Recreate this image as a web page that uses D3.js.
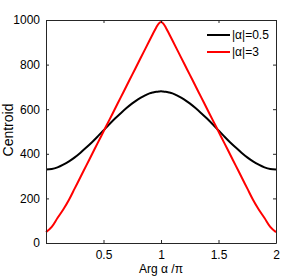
<!DOCTYPE html>
<meta charset="utf-8">
<style>
    body { margin: 0; background: white; font-family: Arial, "Liberation Sans", sans-serif; }
    text { fill: #000; }
</style>
<body>
<svg id="chart" width="305" height="277"></svg>
<script src="https://cdnjs.cloudflare.com/ajax/libs/d3/7.8.5/d3.min.js"></script>
<script>
// values
var argX = [0, 0.05, 0.1, 0.15, 0.2, 0.25, 0.3, 0.35, 0.4, 0.45, 0.5, 0.55, 0.6, 0.65, 0.7, 0.75, 0.8, 0.85, 0.9, 0.93, 0.96, 0.98, 1,
            1.02, 1.04, 1.07, 1.1, 1.15, 1.2, 1.25, 1.3, 1.35, 1.4, 1.45, 1.5, 1.55, 1.6, 1.65, 1.7, 1.75, 1.8, 1.85, 1.9, 1.95, 2];
var smallAlpha = [330, 332, 339, 351, 366, 384, 405, 428, 452, 478, 505, 532, 558, 582, 605, 626, 644, 659, 671, 675, 678, 679, 680,
                  679, 678, 675, 671, 659, 644, 626, 605, 582, 558, 532, 505, 478, 452, 428, 405, 384, 366, 351, 339, 332, 330];
var bigAlpha = [49, 72, 112, 150, 194, 245, 296, 347, 398, 449, 500, 551, 602, 653, 704, 755, 806, 857, 908, 938, 968, 984, 991,
                984, 968, 938, 908, 857, 806, 755, 704, 653, 602, 551, 500, 449, 398, 347, 296, 245, 194, 150, 112, 72, 49];
var seriesNames = ["|\u03b1|=0.5", "|\u03b1|=3"];
var seriesColors = ["#000000", "#ff0000"];
var xTicks = [0.5, 1, 1.5, 2];
var yTicks = [0, 200, 400, 600, 800, 1000];

var svg = d3.select("#chart");
var mLeft = 46, mRight = 276, mTop = 20, mBottom = 243;

var x = d3.scaleLinear().domain([0, 2]).range([mLeft, mRight]);
var y = d3.scaleLinear().domain([0, 1000]).range([mBottom, mTop]);

// curves
var line = d3.line()
    .x(function (d) { return x(d[0]); })
    .y(function (d) { return y(d[1]); })
    .curve(d3.curveMonotoneX);

[smallAlpha, bigAlpha].forEach(function (vals, i) {
    svg.append("path")
        .datum(argX.map(function (a, j) { return [a, vals[j]]; }))
        .attr("d", line)
        .attr("fill", "none")
        .attr("stroke", seriesColors[i])
        .attr("stroke-width", 2);
});

// axes, matlab style: ticks inward on all four sides
function styleAxis(g) {
    g.select(".domain").attr("stroke", "#262626");
    g.selectAll(".tick line").attr("stroke", "#262626");
    g.selectAll("text").attr("font-size", 12).attr("fill", "#000");
}
svg.append("g")
    .attr("transform", "translate(0," + mBottom + ")")
    .call(d3.axisBottom(x).tickValues(xTicks).tickSize(-3).tickSizeOuter(0).tickPadding(7)
        .tickFormat(d3.format("")))
    .call(styleAxis);
svg.append("g")
    .attr("transform", "translate(0," + mTop + ")")
    .call(d3.axisTop(x).tickValues(xTicks).tickSize(-3).tickSizeOuter(0).tickFormat(""))
    .call(styleAxis);
svg.append("g")
    .attr("transform", "translate(" + mLeft + ",0)")
    .call(d3.axisLeft(y).tickValues(yTicks).tickSize(-3).tickSizeOuter(0).tickPadding(6)
        .tickFormat(d3.format("d")))
    .call(styleAxis);
svg.append("g")
    .attr("transform", "translate(" + mRight + ",0)")
    .call(d3.axisRight(y).tickValues(yTicks).tickSize(-3).tickSizeOuter(0).tickFormat(""))
    .call(styleAxis);

// axis labels
svg.append("text")
    .attr("x", (mLeft + mRight) / 2)
    .attr("y", 273)
    .attr("text-anchor", "middle")
    .attr("font-size", 12)
    .text("Arg \u03b1 /\u03c0");
svg.append("text")
    .attr("transform", "translate(13,130) rotate(-90)")
    .attr("text-anchor", "middle")
    .attr("font-size", 14)
    .text("Centroid");

// legend
var legend = svg.append("g");
seriesNames.forEach(function (name, i) {
    var ly = 35 + i * 17;
    legend.append("line")
        .attr("x1", 207).attr("x2", 230)
        .attr("y1", ly).attr("y2", ly)
        .attr("stroke", seriesColors[i])
        .attr("stroke-width", 2);
    legend.append("text")
        .attr("x", 232)
        .attr("y", ly)
        .attr("dy", "0.36em")
        .attr("font-size", 12)
        .text(name);
});
</script>
</body>
